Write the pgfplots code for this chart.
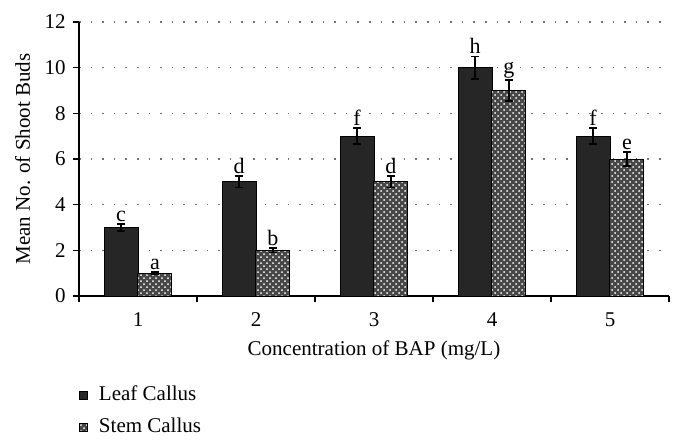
\documentclass[border=0pt]{standalone}
\usepackage{fontspec}
\setmainfont{Liberation Serif}
\usepackage{pgfplots}
\usepackage{pgfplotstable}
\pgfplotsset{compat=1.18}
\usetikzlibrary{patterns}

% x = concentration, bars shifted by half a bar width (0.144 units)
\pgfplotstableread{
x y err lab
1 3 0.15 c
2 5 0.25 d
3 7 0.35 f
4 10 0.5 h
5 7 0.35 f
}\leaf
\pgfplotstableread{
x y err lab
1 1 0.05 a
2 2 0.1 b
3 5 0.25 d
4 9 0.45 g
5 6 0.3 e
}\stem

\begin{document}
\fontsize{10.5}{12}\selectfont
\begin{tikzpicture}
\begin{axis}[name=ax,
  scale only axis, width=295pt, height=137pt,
  xmin=0.5, xmax=5.5, ymin=0, ymax=12,
  axis x line=bottom, axis y line=left,
  axis line style={-, line width=0.6pt},
  xtick={1,2,3,4,5}, minor xtick={0.5,1.5,2.5,3.5,4.5,5.5},
  major x tick style={draw=none},
  minor x tick style={black, line width=0.6pt},
  ytick={0,2,...,12},
  tick align=outside, major tick length=3pt, minor tick length=3pt,
  y tick style={black, line width=0.6pt},
  ymajorgrids, grid style={black!55, dash pattern=on 0.8pt off 5pt, line width=0.8pt},
  /pgf/number format/assume math mode=true,
  xticklabel style={yshift=-1.5pt},
  xlabel={Concentration of BAP (mg/L)},
  ylabel={Mean No. of Shoot Buds},
  legend style={at={(0,-0.325)}, anchor=north west, draw=none, inner sep=0pt,
    legend cell align=left, row sep=6pt,
    nodes={inner xsep=5.5pt, inner ysep=0pt, text height=7.5pt, text depth=2.5pt},
    font=\fontsize{10.5}{12}\selectfont},
  legend image code/.code={\draw[#1, draw=black, line width=0.3pt] (0pt,-2pt) rectangle (4pt,2pt);},
  error bars/error bar style={black, line width=0.75pt},
  error bars/error mark options={black, rotate=90, mark size=2pt, line width=0.75pt},
  letters/.style={only marks, mark=none, forget plot,
    nodes near coords={\pgfplotspointmeta}, point meta=explicit symbolic,
    every node near coord/.append style={anchor=south, inner sep=1pt, black,
      font=\fontsize{11}{12}\selectfont}},
]
\addplot[ybar, bar width=17pt, bar shift=0pt, fill=black!85, draw=black, line width=0.5pt,
  error bars/y dir=both, error bars/y explicit]
  table[x expr=\thisrow{x}-0.144, y=y, y error=err] {\leaf};
\addlegendentry{Leaf Callus}
\addplot[ybar, bar width=17pt, bar shift=0pt, fill=black!72, draw=black, line width=0.5pt,
  postaction={pattern=crosshatch dots, pattern color=white},
  error bars/y dir=both, error bars/y explicit]
  table[x expr=\thisrow{x}+0.144, y=y, y error=err] {\stem};
\addlegendentry{Stem Callus}
\addplot[letters] table[x expr=\thisrow{x}-0.144, y expr=\thisrow{y}+\thisrow{err}, meta=lab] {\leaf};
\addplot[letters] table[x expr=\thisrow{x}+0.144, y expr=\thisrow{y}+\thisrow{err}, meta=lab] {\stem};
\end{axis}
\pgfresetboundingbox
\path (ax.south west) ++(-39.5pt,-75pt) rectangle ++(342.5pt,223pt);
\end{tikzpicture}
\end{document}
